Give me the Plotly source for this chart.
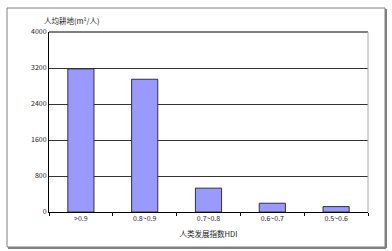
import plotly.graph_objects as go

categories = [">0.9", "0.8~0.9", "0.7~0.8", "0.6~0.7", "0.5~0.6"]
values = [3180, 2950, 530, 195, 120]
y_ticks = [0, 800, 1600, 2400, 3200, 4000]

W, H = 392, 251
L, R, T, B = 49, 24, 32, 39
pw, ph = W - L - R, H - T - B

def px(x):
    return (x - L) / pw

def py(y):
    return (H - B - y) / ph

fig = go.Figure()
fig.add_trace(go.Bar(
    x=categories, y=values,
    marker=dict(color="#9999FF", line=dict(color="#333333", width=1)),
    width=0.41,
))

fig.update_layout(
    template="none",
    width=W, height=H,
    margin=dict(l=L, r=R, t=T, b=B),
    paper_bgcolor="white", plot_bgcolor="white",
    showlegend=False,
    font=dict(family="Noto Sans CJK SC, DejaVu Sans", size=7, color="#222222"),
    xaxis=dict(
        showline=True, linecolor="black", linewidth=1,
        ticks="outside", tickson="boundaries", ticklen=3, tickcolor="black",
        tickfont=dict(size=7, color="#222222"), showgrid=False,
        title=dict(text="人类发展指数HDI", font=dict(size=7.5, color="#222222"), standoff=9),
        mirror=False,
    ),
    yaxis=dict(
        range=[0, 4000], tickvals=y_ticks,
        showline=True, linecolor="black", linewidth=1,
        showgrid=True, gridcolor="#333333", gridwidth=1,
        ticks="", tickfont=dict(size=7, color="#222222"), zeroline=False,
    ),
    shapes=[
        dict(type="line", xref="paper", yref="paper", x0=0, x1=1, y0=1, y1=1,
             line=dict(color="black", width=1)),
        dict(type="line", xref="paper", yref="paper", x0=1, x1=1, y0=0, y1=1,
             line=dict(color="#aaaaaa", width=1)),
        dict(type="rect", xref="paper", yref="paper",
             x0=px(7), x1=px(385), y0=py(247), y1=py(8),
             line=dict(color="#808080", width=1)),
        dict(type="line", xref="paper", yref="paper", x0=px(386), x1=px(386),
             y0=py(248), y1=py(9), line=dict(color="#808080", width=2)),
        dict(type="line", xref="paper", yref="paper", x0=px(8), x1=px(386),
             y0=py(248), y1=py(248), line=dict(color="#808080", width=2)),
    ],
    annotations=[
        dict(text="人均耕地(m²/人)", xref="paper", yref="paper",
             x=px(42), y=py(20), xanchor="left", yanchor="middle",
             showarrow=False, font=dict(size=7.5, color="#222222")),
    ],
)

fig.write_html("out.html")
